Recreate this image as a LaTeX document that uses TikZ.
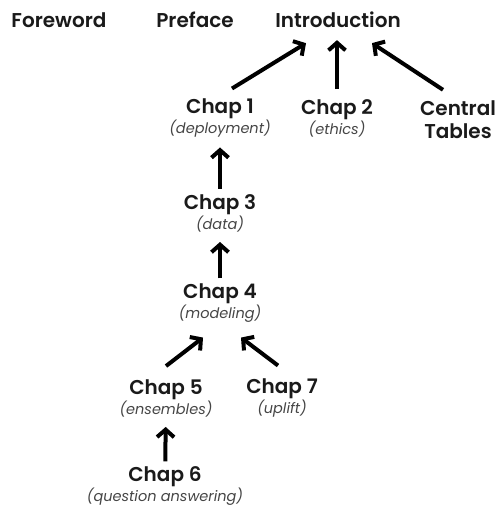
\documentclass[tikz,border=0pt]{standalone}
\usepackage{fontspec}
\setmainfont{Poppins}[BoldFont={Poppins SemiBold}, BoldItalicFont={Poppins SemiBold Italic}]
\usetikzlibrary{arrows.meta, calc, positioning}
\definecolor{title_black}{HTML}{1A1A1A}
\definecolor{sub_grey}{HTML}{454545}
\tikzset{
  part/.style={font=\fontsize{20}{22}\selectfont\bfseries, text=title_black, inner sep=0pt},
  chap/.style={part, align=center},
  arr/.style={line width=4pt, -{Straight Barb[length=7.5pt,width=17pt,line width=4pt]}},
}
\newcommand{\chapsub}[1]{\\[-2pt]{\fontsize{14.5}{16}\selectfont\mdseries\itshape\color{sub_grey}(#1)}}

\begin{document}
\begin{tikzpicture}[x=1pt,y=-1pt,line join=round]
	\useasboundingbox (0,0) rectangle (498,507);
	\node[part] (foreword) at (59,20) {Foreword};
	\node[part] (preface) at (195,20) {Preface};
	\node[part] (intro) at (338,20) {Introduction};
	\node[chap] (tables) at (458,120) {Central\\[1pt]Tables};
	\foreach \n/\x/\y/\what in {1/220/118/deployment, 2/337/118/ethics, 3/220/213/data,
		4/220/303/modeling, 5/166/398/ensembles, 6/165/486/question answering, 7/282/398/uplift}
	{
		\node[chap] (c\n) at (\x,\y) {Chap \n\chapsub{\what}};
	}
	% into the introduction
	\draw[arr] ($(c1.north)+(12,-10)$) -- ($(intro.south)+(-32,15)$);
	\draw[arr] ($(c2.north)+(0,-10)$) -- ($(intro.south)+(-1,12)$);
	\draw[arr] ($(tables.north)+(-15,-11)$) -- ($(intro.south)+(34,15)$);
	% the chapters below
	\foreach \a/\b in {3/1,4/3,6/5}
		\draw[arr,shorten <=5pt,shorten >=10pt] (c\a) -- (c\b);
	\draw[arr] ($(c5.north)+(0,-13)$) -- ($(c4.south)+(-17,15)$);
	\draw[arr] ($(c7.north)+(-4,-13)$) -- ($(c4.south)+(21,15)$);
\end{tikzpicture}
\end{document}
